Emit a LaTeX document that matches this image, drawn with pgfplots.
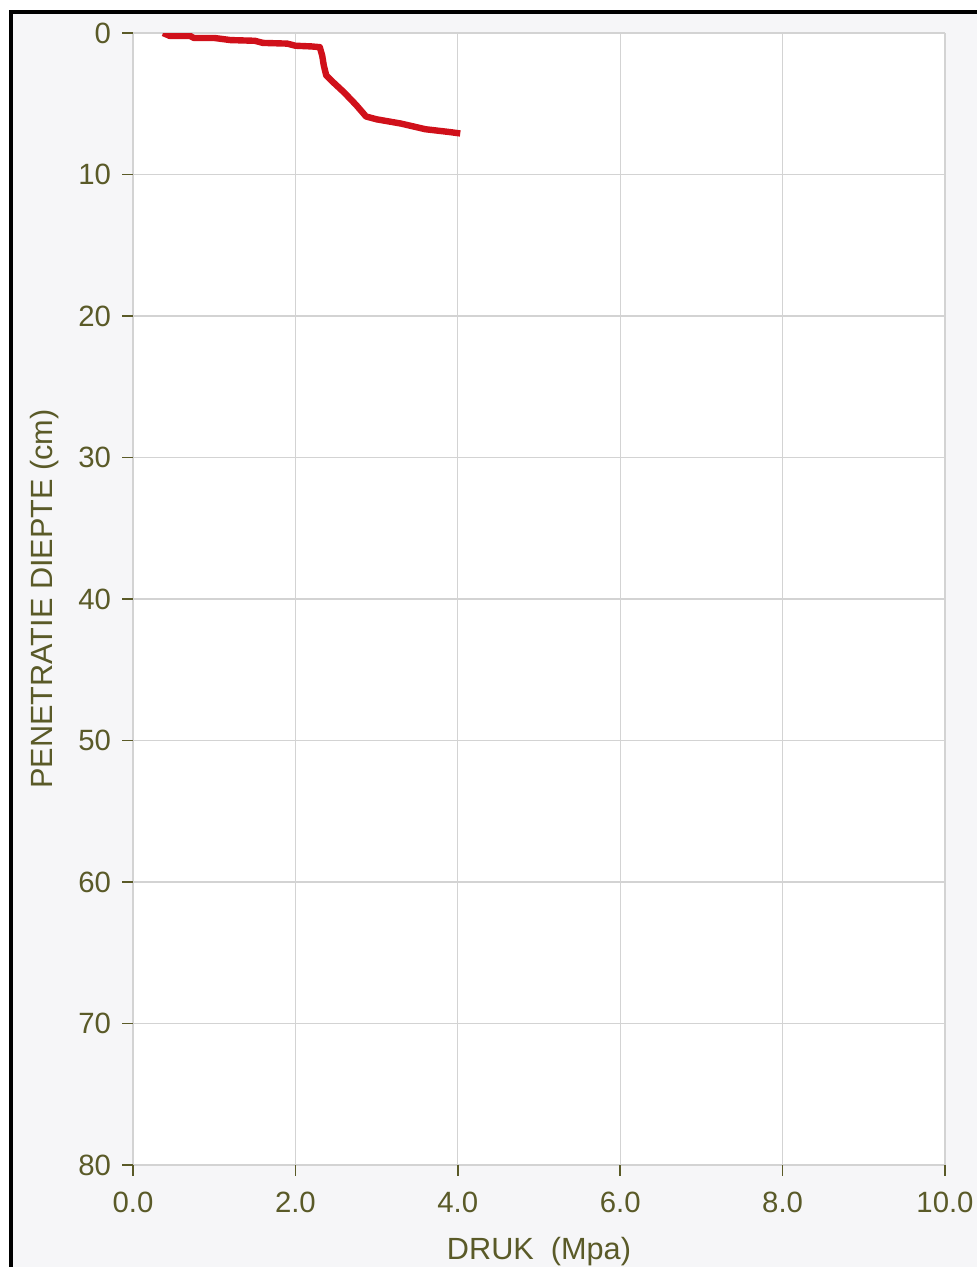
\documentclass[border=0pt]{standalone}
\usepackage{pgfplots}
\pgfplotsset{compat=1.18}
\usepackage{fontspec}
\setmainfont{Liberation Sans}
\definecolor{tickol}{HTML}{5A5A28}
\definecolor{bggray}{HTML}{F6F6F8}
\definecolor{gridgray}{HTML}{D3D3D3}
\definecolor{curvered}{HTML}{D0101A}
\begin{document}
\begin{tikzpicture}
\useasboundingbox (0pt,0pt) rectangle (732.75pt,950.25pt);
\fill[white] (0pt,0pt) rectangle (732.75pt,950.25pt);
\fill[bggray] (8.25pt,0pt) rectangle (732.75pt,941.25pt);
\draw[black, line width=2.4pt] (8.25pt,0pt) -- (8.25pt,941.25pt) -- (732.75pt,941.25pt);
\begin{axis}[
  at={(99.75pt,76.5pt)}, anchor=south west,
  scale only axis, width=609pt, height=849pt,
  xmin=0, xmax=10, ymin=0, ymax=80,
  y dir=reverse,
  xtick={0,2,4,6,8,10},
  ytick={0,10,20,30,40,50,60,70,80},
  xtick pos=left, ytick pos=left,
  xticklabel style={/pgf/number format/fixed, /pgf/number format/fixed zerofill, /pgf/number format/precision=1, yshift=-9pt},
  /pgf/number format/assume math mode=true,
  axis background/.style={fill=white},
  axis line style={draw=none},
  grid=major,
  grid style={gridgray, line width=1pt},
  tick align=outside,
  major tick length=8pt,
  tick style={tickol, line width=1.2pt},
  ticklabel style={font=\fontsize{22}{26}\selectfont, text=tickol},
  yticklabel style={xshift=-5pt},
  label style={font=\fontsize{23}{27}\selectfont, text=tickol},
  xlabel={DRUK\ \ (Mpa)},
  ylabel={PENETRATIE DIEPTE (cm)},
  xlabel style={yshift=-11pt},
  ylabel style={yshift=8pt},
]
\addplot[curvered, line width=4.8pt, line join=round] coordinates {
(0.37,0) (0.45,0.2) (0.7,0.2) (0.75,0.35) (1.0,0.35) (1.2,0.5) (1.5,0.55)
(1.6,0.7) (1.9,0.75) (2.0,0.9) (2.2,0.95) (2.3,1.0)
(2.33,1.6) (2.35,2.3) (2.38,3.0) (2.45,3.4) (2.6,4.2) (2.75,5.1)
(2.87,5.9) (3.0,6.1) (3.3,6.4) (3.6,6.8) (3.9,7.0) (4.03,7.1)
};
\end{axis}
\end{tikzpicture}
\end{document}
